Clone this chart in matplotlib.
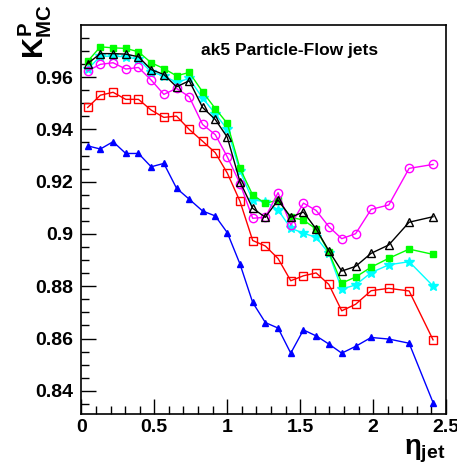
import matplotlib
matplotlib.use("Agg")
import matplotlib.pyplot as plt
from matplotlib.ticker import MultipleLocator

plt.rcParams['font.family'] = ['Liberation Sans', 'DejaVu Sans']
plt.rcParams['mathtext.fontset'] = 'custom'
plt.rcParams['mathtext.rm'] = 'Liberation Sans:bold'
plt.rcParams['mathtext.bf'] = 'Liberation Sans:bold'
plt.rcParams['mathtext.it'] = 'Liberation Sans:bold'

# eta bin centres
eta = [0.0435, 0.1305, 0.2175, 0.3045, 0.3915, 0.4785, 0.5655, 0.6525, 0.7395,
       0.831, 0.918, 1.0005, 1.0875, 1.1745, 1.2615, 1.3485, 1.4355, 1.5225,
       1.6095, 1.6965, 1.785, 1.88, 1.9865, 2.1075, 2.247, 2.411]

blue = [0.9337, 0.9325, 0.9353, 0.9308, 0.9308, 0.9257, 0.9270, 0.9175, 0.9133,
        0.9088, 0.9069, 0.9005, 0.8885, 0.8738, 0.8661, 0.8640, 0.8544, 0.8633,
        0.8610, 0.8579, 0.8544, 0.8570, 0.8604, 0.8598, 0.8582, 0.8355]
red = [0.9484, 0.9531, 0.9542, 0.9515, 0.9515, 0.9474, 0.9446, 0.9451, 0.9400,
       0.9355, 0.9311, 0.9233, 0.9125, 0.8975, 0.8954, 0.8906, 0.8821, 0.8840,
       0.8851, 0.8807, 0.8706, 0.8731, 0.8783, 0.8792, 0.8782, 0.8595]
magenta = [0.9624, 0.9649, 0.9655, 0.9631, 0.9637, 0.9589, 0.9534, 0.9557, 0.9525,
           0.9419, 0.9380, 0.9295, 0.9193, 0.9060, 0.9064, 0.9158, 0.9034, 0.9118,
           0.9090, 0.9028, 0.8982, 0.9001, 0.9094, 0.9111, 0.9251, 0.9266]
black = [0.9652, 0.9690, 0.9690, 0.9688, 0.9678, 0.9629, 0.9610, 0.9563, 0.9586,
         0.9484, 0.9438, 0.9370, 0.9200, 0.9098, 0.9064, 0.9130, 0.9064, 0.9084,
         0.9019, 0.8936, 0.8858, 0.8876, 0.8926, 0.8958, 0.9045, 0.9066]
green = [0.9661, 0.9716, 0.9712, 0.9710, 0.9697, 0.9655, 0.9633, 0.9605, 0.9618,
         0.9544, 0.9480, 0.9423, 0.9251, 0.9149, 0.9117, 0.9130, 0.9064, 0.9053,
         0.9019, 0.8930, 0.8812, 0.8835, 0.8873, 0.8907, 0.8942, 0.8922]
cyan = [0.9630, 0.9680, 0.9680, 0.9678, 0.9668, 0.9620, 0.9605, 0.9580, 0.9595,
        0.9520, 0.9460, 0.9400, 0.9240, 0.9130, 0.9124, 0.9092, 0.9022, 0.9003,
        0.8987, 0.8926, 0.8789, 0.8805, 0.8852, 0.8882, 0.8894, 0.8801]

fig = plt.figure(figsize=(4.57, 4.74), dpi=100)
ax = fig.add_axes([0.178, 0.127, 0.798, 0.820])

ax.plot(eta, blue, color='#0000ff', marker='^', ms=5, lw=1)
ax.plot(eta, red, color='#ff0000', marker='s', ms=6, mfc='none', lw=1)
ax.plot(eta, cyan, color='#00ffff', marker='*', ms=7, lw=1)
ax.plot(eta, green, color='#00ff00', marker='s', ms=5, lw=1)
ax.plot(eta, magenta, color='#ff00ff', marker='o', ms=6, mfc='none', lw=1)
ax.plot(eta, black, color='black', marker='^', ms=6, mfc='none', lw=1)

ax.set_xlim(0, 2.5)
ax.set_ylim(0.8312, 0.9799)
ax.xaxis.set_major_locator(MultipleLocator(0.5))
ax.xaxis.set_minor_locator(MultipleLocator(0.1))
ax.yaxis.set_major_locator(MultipleLocator(0.02))
ax.yaxis.set_minor_locator(MultipleLocator(0.005))
ax.tick_params(which='major', direction='in', length=11, width=1, labelsize=14)
ax.tick_params(axis='y', which='major', pad=6)
ax.tick_params(axis='x', which='major', pad=4)
ax.tick_params(which='minor', direction='in', length=6, width=1)
ax.set_xticks([0, 0.5, 1, 1.5, 2, 2.5])
ax.set_xticklabels(['0', '0.5', '1', '1.5', '2', '2.5'])
ax.set_yticks([0.84, 0.86, 0.88, 0.9, 0.92, 0.94, 0.96])
ax.set_yticklabels(['0.84', '0.86', '0.88', '0.9', '0.92', '0.94', '0.96'])
for lab in ax.get_xticklabels() + ax.get_yticklabels():
    lab.set_fontweight('bold')
for sp in ax.spines.values():
    sp.set_linewidth(1.2)

ax.text(0.57, 0.935, 'ak5 Particle-Flow jets', transform=ax.transAxes,
        ha='center', va='center', fontsize=12.5, fontweight='bold')

fig.text(0.078, 0.99, r'$K^{P}_{MC}$', rotation=90, ha='center', va='top', fontsize=21)
fig.text(0.975, 0.02, r'$\eta_{jet}$', ha='right', va='bottom', fontsize=20)

fig.savefig('out.png', dpi=100)
